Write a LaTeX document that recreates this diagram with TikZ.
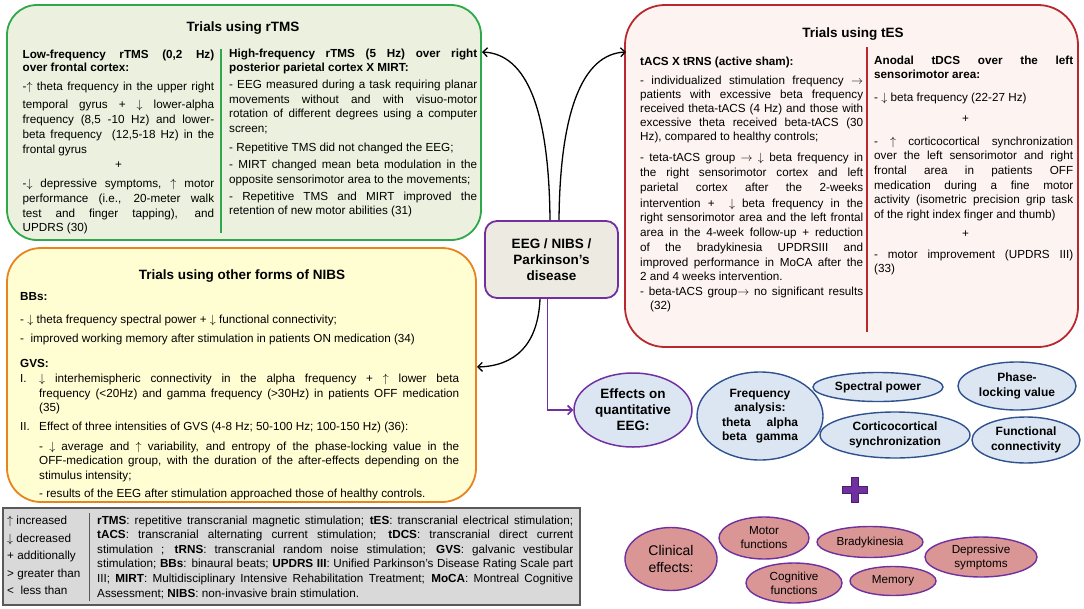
\documentclass[tikz,border=0pt]{standalone}
\usepackage{fontspec}
\setmainfont{Liberation Sans}
\usetikzlibrary{shapes.geometric,arrows.meta}
\definecolor{gB}{HTML}{2EA84A}
\definecolor{gF}{HTML}{EBF1DE}
\definecolor{rB}{HTML}{B8282E}
\definecolor{rF}{HTML}{FDF4F1}
\definecolor{oB}{HTML}{E8831F}
\definecolor{oF}{HTML}{FFFDD2}
\definecolor{pB}{HTML}{7030A0}
\definecolor{pD}{HTML}{4A1F6E}
\definecolor{cF}{HTML}{EDEBE1}
\definecolor{bF}{HTML}{DCE6F2}
\definecolor{bB}{HTML}{2F528F}
\definecolor{kF}{HTML}{D99694}
\definecolor{lF}{HTML}{D9D9D9}
\definecolor{lB}{HTML}{595959}
\newcommand\zBody{\fontsize{11.7}{14.6}\selectfont}
\newcommand\zup{\ensuremath{\uparrow}}
\newcommand\zdn{\ensuremath{\downarrow}}
\newcommand\zra{\ensuremath{\rightarrow}}
\newcommand\zJL[1]{\hbox to\hsize{#1}}
\newcommand\zLL[1]{\hbox to\hsize{#1\hfil}}
\newcommand\zCL[1]{\hbox to\hsize{\hfil#1\hfil}}
\newcommand\zVS[1]{\vskip#1pt\relax}
\newcommand\zIJ[2]{\hbox to\hsize{\hbox to19pt{#1\hfil}\hbox to\dimexpr\hsize-19pt\relax{#2}}}
\newcommand\zIL[2]{\hbox to\hsize{\hbox to19pt{#1\hfil}#2\hfil}}
\newcommand\zCol[2]{\vtop{\hsize=#1pt\relax\zBody\lineskiplimit=-\maxdimen\lineskip=0pt\relax #2}}
\begin{document}
\begin{tikzpicture}[x=1pt,y=-1pt,
  box/.style={draw, line width=1.8pt, inner sep=0pt, rectangle},
  ttl/.style={inner sep=0pt, anchor=base, font=\fontsize{13.5}{16}\selectfont\bfseries},
  col/.style={inner sep=0pt, anchor=base west},
  arr/.style={line width=1.3pt, -{Straight Barb[length=4.5pt,width=9pt]}},
  parr/.style={draw=pB, line width=1.6pt, -{Straight Barb[length=4.5pt,width=9pt]}},
  qe/.style={ellipse, draw=bB, fill=bF, line width=1.4pt, inner sep=0pt, align=center, font=\fontsize{12}{14.5}\selectfont\bfseries},
  ce/.style={ellipse, draw=pB, fill=kF, line width=1.4pt, inner sep=0pt, align=center, font=\fontsize{11.7}{14}\selectfont},
]
\useasboundingbox (0,0) rectangle (1084,608);
\fill[white] (0,0) rectangle (1084,608);

% boxes
\node[box, draw=gB, fill=gF, rounded corners=30pt, minimum width=474pt, minimum height=235pt] (rtms) at (244,122.5) {};
\node[box, draw=rB, fill=rF, rounded corners=40pt, minimum width=453pt, minimum height=342pt] (tes) at (851.5,176) {};
\node[box, draw=oB, fill=oF, rounded corners=34pt, minimum width=469pt, minimum height=254pt] (nibs) at (241.5,375) {};
\node[box, draw=lB, fill=lF, line width=2pt, minimum width=577pt, minimum height=97pt] (leg) at (291.5,556.5) {};
\node[box, draw=pB, fill=cF, rounded corners=12pt, minimum width=133pt, minimum height=77pt, align=center, font=\fontsize{13.5}{16}\selectfont\bfseries] (eeg) at (551.5,259.5) {EEG / NIBS /\\Parkinson’s\\disease};

% titles
\node[ttl] (trt) at (243,31) {Trials using rTMS};
\node[ttl] (tte) at (853,37) {Trials using tES};
\node[ttl] (tni) at (242,279) {Trials using other forms of NIBS};

% dividers
\draw[gB, line width=1.5pt] (221,49) -- (221,233);
\draw[rB, line width=1.5pt] (867,47) -- (867,332);
\draw[lB, line width=1pt] (89,513) -- (89,601);

% rTMS left column
\node[col] (rl) at (22.5,58) {\zCol{191.5}{%
\zJL{\bfseries Low-frequency rTMS (0,2 Hz)}
\zVS{-1.2}\zLL{\bfseries over frontal cortex:}
\zVS{4.4}\zJL{-\zup{} theta frequency in the upper right}
\zVS{3.4}\zJL{temporal gyrus + \zdn{} lower-alpha}
\zJL{frequency (8,5 -10 Hz) and lower-}
\zVS{0.4}\zJL{beta frequency \ (12,5-18 Hz) in the}
\zVS{0.4}\zLL{frontal gyrus}
\zVS{0.4}\zCL{+}
\zVS{4.4}\zJL{-\zdn{} depressive symptoms, \zup{} motor}
\zVS{0.4}\zJL{performance (i.e., 20-meter walk}
\zVS{0.4}\zJL{test and finger tapping), and}
\zLL{UPDRS (30)}}};

% rTMS right column
\node[col] (rr) at (229,57) {\zCol{248}{%
\zJL{\bfseries High-frequency rTMS (5 Hz) over right}
\zLL{\bfseries posterior parietal cortex X MIRT:}
\zVS{2.4}\zJL{- EEG measured during a task requiring planar}
\zJL{movements without and with visuo-motor}
\zJL{rotation of different degrees using a computer}
\zLL{screen;}
\zVS{4.4}\zLL{- Repetitive TMS did not changed the EEG;}
\zVS{2.4}\zJL{- MIRT changed mean beta modulation in the}
\zLL{opposite sensorimotor area to the movements;}
\zVS{2.4}\zJL{- Repetitive TMS and MIRT improved the}
\zLL{retention of new motor abilities (31)}}};

% tES left column
\node[col] (tl) at (640,65) {\zCol{223}{%
\zLL{\bfseries tACS X tRNS (active sham):}
\zVS{4.4}\zJL{- individualized stimulation frequency \zra}
\zVS{-0.6}\zJL{patients with excessive beta frequency}
\zVS{-0.6}\zJL{received theta-tACS (4 Hz) and those with}
\zVS{-0.6}\zJL{excessive theta received beta-tACS (30}
\zVS{-0.6}\zLL{Hz), compared to healthy controls;}
\zVS{6.4}\zJL{- teta-tACS group \zra{} \zdn{} beta frequency in}
\zVS{0.4}\zJL{the right sensorimotor cortex and left}
\zVS{0.4}\zJL{parietal cortex after the 2-weeks}
\zVS{1.4}\zJL{intervention + \ \zdn{} beta frequency in the}
\zVS{-0.6}\zJL{right sensorimotor area and the left frontal}
\zVS{0.4}\zJL{area in the 4-week follow-up + reduction}
\zVS{0.4}\zJL{of the bradykinesia UPDRSIII and}
\zVS{0.4}\zJL{improved performance in MoCA after the}
\zVS{-0.6}\zLL{2 and 4 weeks intervention.}
\zVS{0.4}\zJL{- beta-tACS group\zra{} no significant results}
\zVS{-0.6}\zLL{\hskip10pt(32)}}};

% tES right column
\node[col] (tr) at (874,64) {\zCol{199}{%
\zJL{\bfseries Anodal tDCS over the left}
\zLL{\bfseries sensorimotor area:}
\zVS{8}\zLL{- \zdn{} beta frequency (22-27 Hz)}
\zVS{6.4}\zLL{\hskip88pt+}
\zVS{8.4}\zJL{- \zup{} corticocortical synchronization}
\zJL{over the left sensorimotor and right}
\zJL{frontal area in patients OFF}
\zJL{medication during a fine motor}
\zJL{activity (isometric precision grip task}
\zLL{of the right index finger and thumb)}
\zVS{4.4}\zLL{\hskip88pt+}
\zVS{6.4}\zJL{- motor improvement (UPDRS III)}
\zLL{(33)}}};

% other NIBS column
\node[col] (nc) at (20,300) {\zCol{439}{%
\zLL{\bfseries BBs:}
\zVS{8.4}\zLL{- \zdn{} theta frequency spectral power + \zdn{} functional connectivity;}
\zVS{4.4}\zLL{- \ improved working memory after stimulation in patients ON medication (34)}
\zVS{10.4}\zLL{\bfseries GVS:}
\zVS{1}\zIJ{I.}{\zdn{} interhemispheric connectivity in the alpha frequency + \zup{} lower beta}
\zIJ{}{frequency (<20Hz) and gamma frequency (>30Hz) in patients OFF medication}
\zIL{}{(35)}
\zVS{3.6}\zIL{II.}{Effect of three intensities of GVS (4-8 Hz; 50-100 Hz; 100-150 Hz) (36):}
\zVS{5.6}\zIJ{}{- \zdn{} average and \zup{} variability, and entropy of the phase-locking value in the}
\zIJ{}{OFF-medication group, with the duration of the after-effects depending on the}
\zIL{}{stimulus intensity;}
\zVS{3.6}\zIL{}{- results of the EEG after stimulation approached those of healthy controls.}}};

% legend
\node[col] (ll) at (7,524.5) {\zCol{80}{\baselineskip=17.5pt
\zLL{\zup{} increased}
\zLL{\zdn{} decreased}
\zLL{+ additionally}
\zLL{> greater than}
\zLL{< \ less than}}};
\node[col] (lr) at (97,524) {\zCol{476}{%
\zJL{\textbf{rTMS}: repetitive transcranial magnetic stimulation; \textbf{tES}: transcranial electrical stimulation;}
\zJL{\textbf{tACS}: transcranial alternating current stimulation; \textbf{tDCS}: transcranial direct current}
\zJL{stimulation ; \textbf{tRNS}: transcranial random noise stimulation; \textbf{GVS}: galvanic vestibular}
\zJL{stimulation; \textbf{BBs}: binaural beats; \textbf{UPDRS III}: Unified Parkinson's Disease Rating Scale part}
\zJL{III; \textbf{MIRT}: Multidisciplinary Intensive Rehabilitation Treatment; \textbf{MoCA}: Montreal Cognitive}
\zLL{Assessment; \textbf{NIBS}: non-invasive brain stimulation.}}};

% quantitative EEG ellipses
\node[ellipse, draw=pB, fill=bF, line width=1.5pt, inner sep=0pt, align=center, minimum width=118pt, minimum height=74pt, font=\fontsize{13.5}{16}\selectfont\bfseries] (eff) at (633,410) {Effects on\\quantitative\\EEG:};
\node[qe, minimum width=126pt, minimum height=88pt] (freq) at (760,416) {Frequency\\analysis:\\\hbox to76pt{theta\hfil alpha}\\\hbox to76pt{beta\hfil gamma}};
\node[qe, minimum width=130pt, minimum height=29pt] (spec) at (878,387) {Spectral power};
\node[qe, minimum width=118pt, minimum height=48pt] (plv) at (1017,386) {Phase-\\locking value};
\node[qe, minimum width=150pt, minimum height=46pt] (cort) at (895,435) {Corticocortical\\synchronization};
\node[qe, minimum width=108pt, minimum height=46pt] (func) at (1026,440) {Functional\\connectivity};

% plus sign
\draw[fill=pB, draw=pD, line width=0.8pt] (851.5,477) -- (858.5,477) -- (858.5,486) -- (867.5,486) -- (867.5,493) -- (858.5,493) -- (858.5,502) -- (851.5,502) -- (851.5,493) -- (842.5,493) -- (842.5,486) -- (851.5,486) -- cycle;

% clinical ellipses
\node[ce, minimum width=92pt, minimum height=63pt, font=\fontsize{14}{17}\selectfont] (clin) at (671,559) {Clinical\\effects:};
\node[ce, minimum width=90pt, minimum height=42pt] (motor) at (764,538) {Motor\\functions};
\node[ce, minimum width=106pt, minimum height=31pt] (brady) at (870,542) {Bradykinesia};
\node[ce, minimum width=112pt, minimum height=40pt] (depr) at (981,557) {Depressive\\symptoms};
\node[ce, minimum width=96pt, minimum height=40pt] (cogn) at (794,583) {Cognitive\\functions};
\node[ce, minimum width=86pt, minimum height=29pt] (mem) at (893,581) {Memory};

% connectors
\coordinate (rtIn) at (482,52);
\coordinate (teIn) at (626,52);
\coordinate (niIn) at (477,367);
\draw[arr] ([xshift=-1.5pt]eeg.north) .. controls (549,110) and (527,54) .. (rtIn);
\draw[arr] ([xshift=7.5pt]eeg.north) .. controls (560,110) and (583,54) .. (teIn);
\draw[arr] ([xshift=-11.5pt]eeg.south) .. controls (538,345) and (515,366) .. (niIn);
\draw[parr] ([xshift=-4pt]eeg.south) |- (eff.west);
\end{tikzpicture}
\end{document}
